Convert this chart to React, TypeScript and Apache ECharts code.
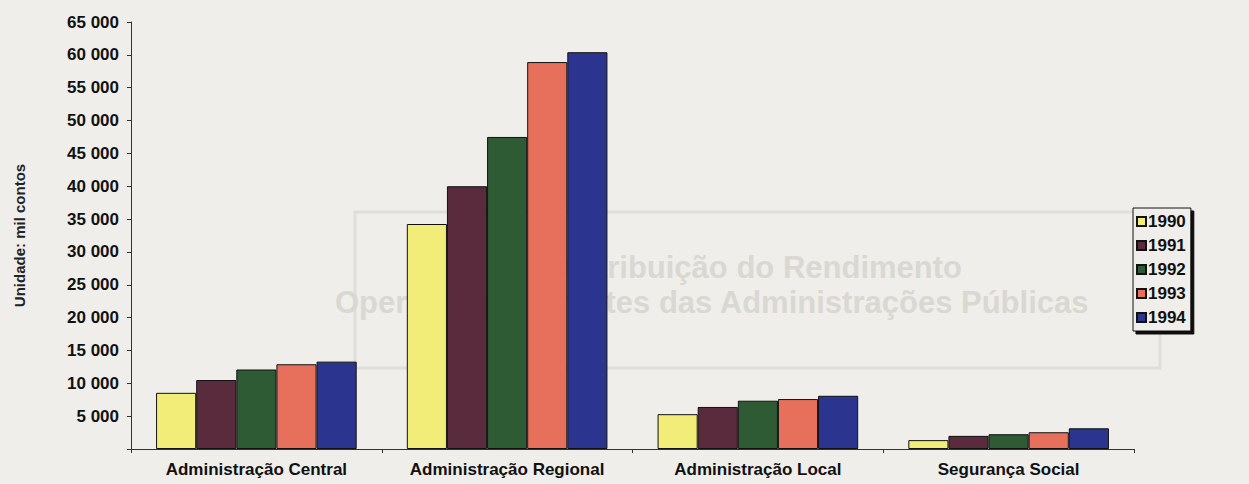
import React, { useEffect, useRef } from "react";
import * as echarts from "echarts";

const categories = [
  "Administração Central",
  "Administração Regional",
  "Administração Local",
  "Segurança Social",
];
const years = ["1990", "1991", "1992", "1993", "1994"];
const v1990 = [8550, 34250, 5300, 1350];
const v1991 = [10500, 40000, 6400, 2000];
const v1992 = [12100, 47500, 7350, 2250];
const v1993 = [12900, 58900, 7600, 2550];
const v1994 = [13300, 60400, 8100, 3150];
const seriesValues = [v1990, v1991, v1992, v1993, v1994];
const colors = ["#f2ec78", "#5a2b3c", "#2e5a34", "#e6705c", "#2b3590"];
const yTicksMax = 65000;
const yTickStep = 5000;

const FONT = "'Liberation Sans', Arial, sans-serif";

export default function App() {
  const ref = useRef<HTMLDivElement>(null);
  useEffect(() => {
    if (!ref.current) return;
    const chart = echarts.init(ref.current, undefined, { renderer: "svg" });
    chart.setOption({
      animation: false,
      backgroundColor: "#efeeea",
      textStyle: { fontFamily: FONT },
      graphic: [
        {
          type: "rect",
          z: 0,
          shape: { x: 355, y: 212, width: 805, height: 156 },
          style: { fill: "none", stroke: "#e0ded9", lineWidth: 3 },
        },
        {
          type: "text",
          z: 0,
          x: 962,
          y: 252,
          style: {
            text: "Distribuição do Rendimento",
            fill: "#dad8d3",
            font: `bold 31px ${FONT}`,
            align: "right",
          },
        },
        {
          type: "text",
          z: 0,
          x: 335,
          y: 287,
          style: {
            text: "Operações Correntes das Administrações Públicas",
            fill: "#dad8d3",
            font: `bold 31px ${FONT}`,
          },
        },
      ],
      grid: { left: 131, right: 115, top: 22, bottom: 35 },
      legend: {
        orient: "vertical",
        left: 1133,
        top: 208,
        padding: [5, 5, 5, 3],
        itemWidth: 9,
        itemHeight: 9,
        itemGap: 7,
        icon: "rect",
        backgroundColor: "#efeeea",
        borderColor: "#111",
        borderWidth: 1,
        shadowColor: "#111",
        shadowBlur: 0,
        shadowOffsetX: 3,
        shadowOffsetY: 3,
        textStyle: {
          fontFamily: FONT,
          fontWeight: "bold",
          fontSize: 17,
          color: "#111",
          padding: [0, 0, 0, -3],
        },
        data: years,
      },
      xAxis: {
        type: "category",
        data: categories,
        axisLine: { lineStyle: { color: "#333", width: 1 } },
        axisTick: { show: true, length: 4, inside: false, lineStyle: { color: "#333" } },
        axisLabel: {
          interval: 0,
          hideOverlap: false,
          fontFamily: FONT,
          fontWeight: "bold",
          fontSize: 17,
          color: "#111",
          margin: 12,
        },
      },
      yAxis: {
        type: "value",
        min: 0,
        max: yTicksMax,
        interval: yTickStep,
        name: "Unidade: mil contos",
        nameLocation: "middle",
        nameGap: 104,
        nameRotate: 90,
        nameTextStyle: {
          fontFamily: FONT,
          fontWeight: "bold",
          fontSize: 15,
          color: "#222",
        },
        splitLine: { show: false },
        axisLine: { show: true, lineStyle: { color: "#333", width: 1 } },
        axisTick: { show: true, length: 4, lineStyle: { color: "#333" } },
        axisLabel: {
          fontFamily: FONT,
          fontWeight: "bold",
          fontSize: 17,
          color: "#111",
          margin: 12,
          formatter: (v: number) =>
            v === 0 ? "" : String(v).replace(/\B(?=(\d{3})+(?!\d))/g, " "),
        },
      },
      series: years.map((y, i) => ({
        name: y,
        type: "bar",
        data: seriesValues[i],
        barGap: "0%",
        barCategoryGap: "20%",
        itemStyle: { color: colors[i], borderColor: "#111", borderWidth: 1 },
      })),
    });
    return () => chart.dispose();
  }, []);
  return (
    <div
      ref={ref}
      style={{ position: "fixed", left: 0, top: 0, width: 1249, height: 484 }}
    />
  );
}
